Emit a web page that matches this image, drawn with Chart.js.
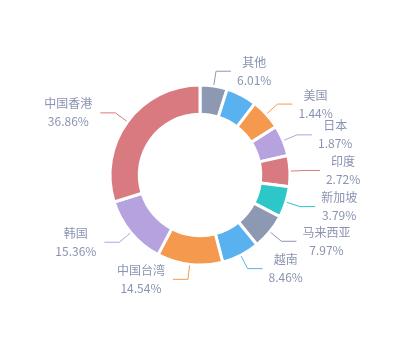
<!DOCTYPE html>
<html>
<head>
<meta charset="utf-8">
<script src="https://cdn.jsdelivr.net/npm/chart.js@4"></script>
<style>
  html, body { margin: 0; padding: 0; background: #fff; }
  #wrap { width: 400px; height: 350px; }
</style>
</head>
<body>
<div id="wrap"><canvas id="pieChart"></canvas></div>
<script>
// Slices clockwise from 12 o'clock (the unnamed blue slice has no label in the source)
const regions = ['其他', '', '美国', '日本', '印度', '新加坡', '马来西亚', '越南', '中国台湾', '韩国', '中国香港'];
const shares = [6.01, 0.98, 1.44, 1.87, 2.72, 3.79, 7.97, 8.46, 14.54, 15.36, 36.86];
const sliceColors = ['#8d98b3', '#5ab1ef', '#f5994e', '#b6a2de', '#d87a80', '#2ec7c9',
                     '#8d98b3', '#5ab1ef', '#f5994e', '#b6a2de', '#d87a80'];
const labelColor = '#8a93b1';
const MIN_ANGLE = 20; // degrees, small slices are widened to this

// widen tiny slices the way the original pie layout does (min angle)
function sliceAngles(values) {
    const total = values.reduce((s, v) => s + v, 0);
    const unit = 360 / total;
    let rest = 360;
    let largeSum = 0;
    const small = values.map(v => {
        if (v * unit < MIN_ANGLE) { rest -= MIN_ANGLE; return true; }
        largeSum += v;
        return false;
    });
    return values.map((v, i) => small[i] ? MIN_ANGLE : v * rest / largeSum);
}

// labels outside the ring with leader lines
const outsideLabels = {
    id: 'outsideLabels',
    afterDatasetsDraw(chart) {
        const ctx = chart.ctx;
        const meta = chart.getDatasetMeta(0);
        meta.data.forEach((arc, i) => {
            if (!regions[i]) return;
            const { x, y, startAngle, endAngle, outerRadius } =
                arc.getProps(['x', 'y', 'startAngle', 'endAngle', 'outerRadius'], true);
            const mid = (startAngle + endAngle) / 2;
            const cos = Math.cos(mid), sin = Math.sin(mid);
            const x1 = x + cos * (outerRadius + 1), y1 = y + sin * (outerRadius + 1);
            const x2 = x + cos * (outerRadius + 15), y2 = y + sin * (outerRadius + 15);
            const right = cos >= 0;
            const x3 = x2 + (right ? 15 : -15);

            ctx.save();
            ctx.strokeStyle = sliceColors[i];
            ctx.lineWidth = 1;
            ctx.beginPath();
            ctx.moveTo(x1, y1);
            ctx.lineTo(x2, y2);
            ctx.lineTo(x3, y2);
            ctx.stroke();

            ctx.font = '12px "Noto Sans CJK SC", "Noto Sans", sans-serif';
            const pct = shares[i].toFixed(2) + '%';
            const w = Math.max(ctx.measureText(regions[i]).width, ctx.measureText(pct).width);
            const gap = right ? 6 : 8;
            const cx = right ? x3 + gap + w / 2 : x3 - gap - w / 2;
            ctx.fillStyle = labelColor;
            ctx.textAlign = 'center';
            ctx.textBaseline = 'middle';
            ctx.fillText(regions[i], cx, y2 - 9);
            ctx.fillText(pct, cx, y2 + 9);
            ctx.restore();
        });
    }
};

document.addEventListener('DOMContentLoaded', function() {
    const ctxPie = document.getElementById('pieChart').getContext('2d');
    new Chart(ctxPie, {
        type: 'doughnut',
        data: {
            labels: regions,
            datasets: [{
                data: sliceAngles(shares),
                backgroundColor: sliceColors,
                borderColor: '#ffffff',
                borderWidth: 3,
                hoverOffset: 0
            }]
        },
        options: {
            responsive: true,
            maintainAspectRatio: false,
            animation: false,
            radius: 90,
            cutout: '67.5%',
            layout: { padding: 0 },
            plugins: {
                legend: { display: false },
                tooltip: { enabled: false }
            }
        },
        plugins: [outsideLabels]
    });
});
</script>
</body>
</html>
